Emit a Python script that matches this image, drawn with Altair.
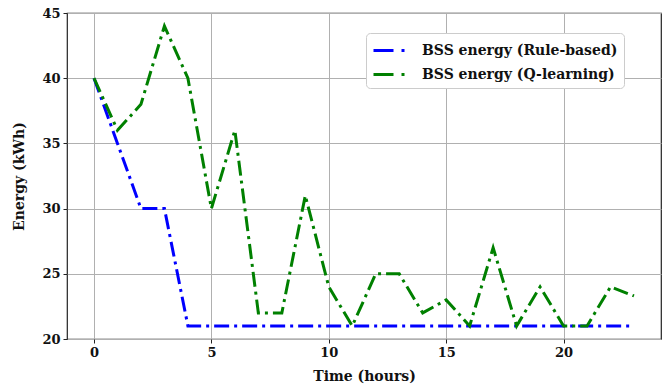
import altair as alt
import pandas as pd

hours = list(range(24))
rule_based = [40, 35, 30, 30, 21, 21, 21, 21, 21, 21, 21, 21, 21, 21, 21, 21, 21, 21, 21, 21, 21, 21, 21, 21]
q_learning = [40, 36, 38, 44, 40, 30, 36, 22, 22, 31, 24, 21, 25, 25, 22, 23, 21, 27, 21, 24, 21, 21, 24, 23.3]
series_names = ["BSS energy (Rule-based)", "BSS energy (Q-learning)"]
series_colors = ["#0000ff", "#008000"]
x_ticks = [0, 5, 10, 15, 20]
y_ticks = [20, 25, 30, 35, 40, 45]

rows = []
for i, (name, vals) in enumerate(zip(series_names, [rule_based, q_learning])):
    for h, v in zip(hours, vals):
        rows.append({"hour": h, "energy": v, "series": name, "order": i})
df = pd.DataFrame(rows)

font = "DejaVu Serif"

chart = alt.Chart(df).mark_line(
    strokeWidth=3, strokeDash=[15, 5, 3, 5], clip=True
).encode(
    x=alt.X("hour:Q",
            scale=alt.Scale(domain=[-1.15, 24.15], nice=False, zero=False),
            axis=alt.Axis(values=x_ticks, title="Time (hours)", format="d")),
    y=alt.Y("energy:Q",
            scale=alt.Scale(domain=[20, 45], nice=False, zero=False),
            axis=alt.Axis(values=y_ticks, title="Energy (kWh)", format="d")),
    color=alt.Color("series:N",
                    scale=alt.Scale(domain=series_names, range=series_colors),
                    sort=series_names,
                    legend=alt.Legend(
                        title=None, orient="none", legendX=299, legendY=20,
                        symbolType="M-1.8,0H1.8", symbolStrokeWidth=3,
                        symbolDash=[20, 8, 3, 8], symbolSize=400,
                        symbolOffset=8, symbolFillColor="transparent",
                        labelFont=font, labelFontSize=14, labelFontWeight="bold",
                        labelColor="#111", rowPadding=5, labelLimit=400,
                        fillColor="white", strokeColor="#cccccc",
                        cornerRadius=4, padding=6, labelOffset=19,
                    )),
    detail="order:O",
    order=alt.Order("hour:Q"),
).properties(
    width=594, height=326,
    autosize=alt.AutoSizeParams(type="none"),
    padding={"left": 67, "top": 13, "right": 8, "bottom": 46},
).configure_view(
    stroke="#222222", strokeWidth=1.2
).configure_axis(
    domain=False,
    grid=True, gridColor="#b0b0b0", gridWidth=1,
    tickColor="#222", tickSize=4, tickWidth=1,
    labelFont=font, labelFontSize=13, labelFontWeight="bold", labelColor="#111",
    titleFont=font, titleFontSize=14, titleFontWeight="bold", titleColor="#111",
    labelPadding=3,
).configure_axisY(
    titlePadding=15,
).configure_axisX(
    titlePadding=10,
)

chart.save("out.html", embed_options={"renderer": "svg", "actions": False})
